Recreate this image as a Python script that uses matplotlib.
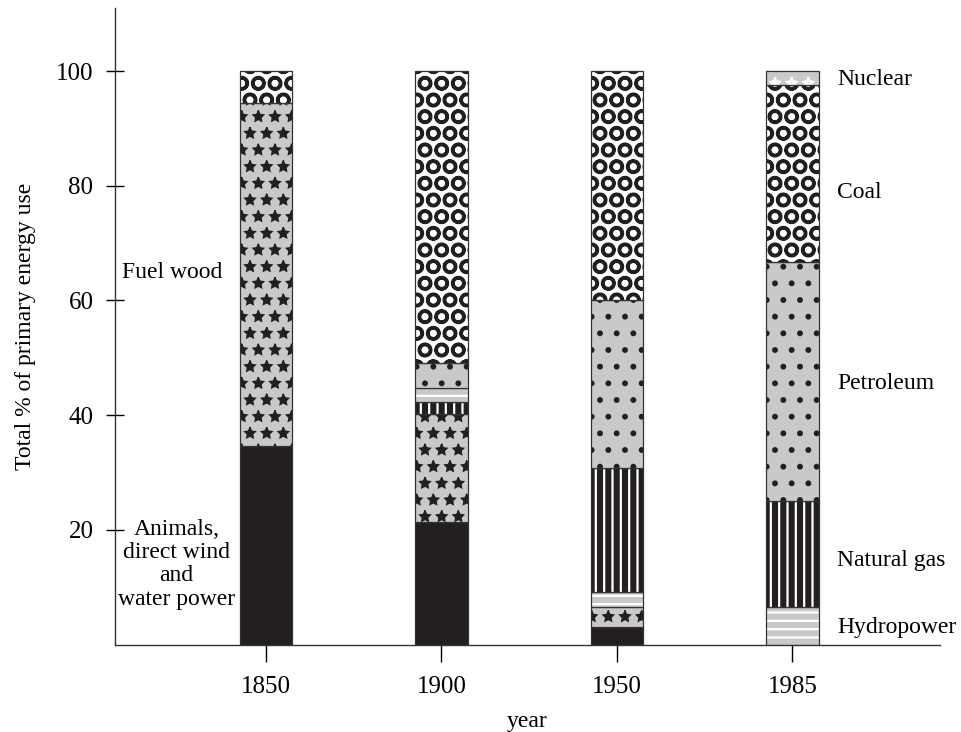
import matplotlib
matplotlib.use("Agg")
import matplotlib.pyplot as plt

# shares of primary energy use (%)
years = ['1850', '1900', '1950', '1985']
animals = [34.6, 21.4, 3.1, 0.0]
fuel_wood = [59.8, 18.8, 3.4, 0.0]
hydropower = [0.0, 2.5, 2.6, 6.6]
natural_gas = [0.0, 2.1, 21.7, 18.5]
petroleum = [0.0, 4.3, 29.2, 41.6]
coal = [5.6, 50.9, 40.0, 30.8]
nuclear = [0.0, 0.0, 0.0, 2.5]

sources = {
    'animals': animals,
    'fuel_wood': fuel_wood,
    'hydropower': hydropower,
    'natural_gas': natural_gas,
    'petroleum': petroleum,
    'coal': coal,
    'nuclear': nuclear,
}
default_order = ['animals', 'fuel_wood', 'hydropower', 'natural_gas', 'petroleum', 'coal', 'nuclear']
order_1900 = ['animals', 'fuel_wood', 'natural_gas', 'hydropower', 'petroleum', 'coal', 'nuclear']

right_labels = ['Nuclear', 'Coal', 'Petroleum', 'Natural gas', 'Hydropower']
right_label_y = [98.6, 78.9, 45.6, 14.7, 2.9]

BLACK = '#231f20'
GRAY = '#c9c9c9'
# face colour, hatch pattern, hatch colour, hatch line width
styles = {
    'animals': (BLACK, None, BLACK, 1.0),
    'fuel_wood': (GRAY, '*', BLACK, 1.0),
    'hydropower': (GRAY, '--', 'white', 1.6),
    'natural_gas': (BLACK, '||', 'white', 1.6),
    'petroleum': (GRAY, '.', BLACK, 1.8),
    'coal': ('white', 'O', BLACK, 2.4),
    'nuclear': (GRAY, '*', 'white', 1.2),
}

plt.rcParams['font.family'] = ['Liberation Serif', 'DejaVu Serif']

fig = plt.figure(figsize=(9.62, 7.32), dpi=100)
ax = fig.add_axes([0.1195, 0.1195, 0.8575, 0.8695])

width = 0.30
for i, yr in enumerate(years):
    order = order_1900 if yr == '1900' else default_order
    bottom = 0.0
    for name in order:
        h = sources[name][i]
        if h <= 0:
            continue
        face, hatch, hcol, hlw = styles[name]
        with plt.rc_context({'hatch.linewidth': hlw}):
            ax.bar(i, h, width, bottom=bottom, color=face, hatch=hatch,
                   edgecolor=hcol, linewidth=0)
        ax.bar(i, h, width, bottom=bottom, fill=False,
               edgecolor='#333333', linewidth=0.9)
        bottom += h

ax.set_xlim(-0.86, 3.84)
ax.set_ylim(0, 111)
ax.set_xticks(range(len(years)))
ax.set_xticklabels(years)
ax.set_yticks([20, 40, 60, 80, 100])
ax.tick_params(axis='x', direction='out', length=12, width=1, labelsize=18, pad=11)
ax.tick_params(axis='y', direction='inout', length=13, width=1, labelsize=18, pad=9)
for s in ['top', 'right']:
    ax.spines[s].set_visible(False)
for s in ['left', 'bottom']:
    ax.spines[s].set_linewidth(1.0)
    ax.spines[s].set_color('#333333')

ax.set_ylabel('Total % of primary energy use', fontsize=17, labelpad=14)
ax.set_xlabel('year', fontsize=17, labelpad=9)

for lab, y in zip(right_labels, right_label_y):
    ax.text(3.256, y, lab, fontsize=17, ha='left', va='center')
ax.text(-0.536, 64.9, 'Fuel wood', fontsize=17, ha='center', va='center')
ax.text(-0.51, 14.0, 'Animals,\ndirect wind\nand\nwater power', fontsize=17,
        ha='center', va='center', linespacing=1.15)

fig.savefig('out.png', dpi=100)
